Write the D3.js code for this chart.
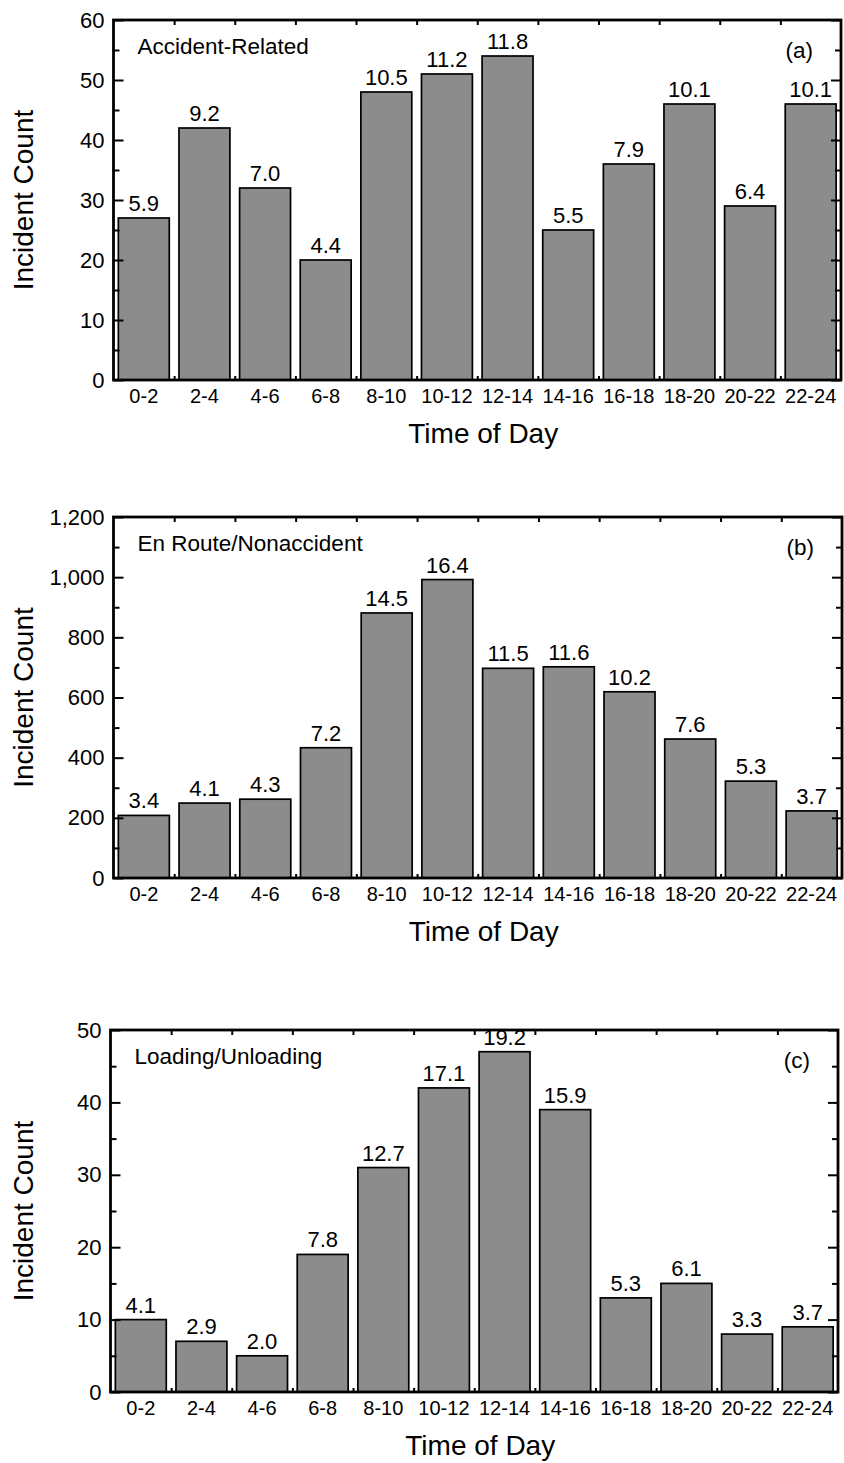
<!DOCTYPE html>
<html>
<head>
<meta charset="utf-8">
<script src="https://cdn.jsdelivr.net/npm/d3@7"></script>
<style>
  body { margin: 0; background: #fff; }
  svg text { font-family: 'Liberation Sans', Arial, sans-serif; fill: #000; }
</style>
</head>
<body>
<svg class="drawing" width="844" height="1463"></svg>
<script>
const timeSlots = ['0-2', '2-4', '4-6', '6-8', '8-10', '10-12', '12-14', '14-16', '16-18', '18-20', '20-22', '22-24']

// incident counts per time slot, and the share (%) printed on each bar
const accidentCounts = [27, 42, 32, 20, 48, 51, 54, 25, 36, 46, 29, 46]
const accidentShare = ['5.9', '9.2', '7.0', '4.4', '10.5', '11.2', '11.8', '5.5', '7.9', '10.1', '6.4', '10.1']

const enRouteCounts = [208, 249, 262, 433, 881, 992, 697, 702, 619, 462, 322, 223]
const enRouteShare = ['3.4', '4.1', '4.3', '7.2', '14.5', '16.4', '11.5', '11.6', '10.2', '7.6', '5.3', '3.7']

const loadingCounts = [10, 7, 5, 19, 31, 42, 47, 39, 13, 15, 8, 9]
const loadingShare = ['4.1', '2.9', '2.0', '7.8', '12.7', '17.1', '19.2', '15.9', '5.3', '6.1', '3.3', '3.7']

const fonts = { yTick: 22, xTick: 20, value: 22, label: 22.5, title: 28 }

const panels = [
  { counts: accidentCounts, share: accidentShare, name: 'Accident-Related', tag: '(a)',
    yMax: 60, major: 10, minor: 5, fmt: d3.format('d'),
    left: 113.5, right: 841, top: 20, bottom: 380 },
  { counts: enRouteCounts, share: enRouteShare, name: 'En Route/Nonaccident', tag: '(b)',
    yMax: 1200, major: 200, minor: 100, fmt: d3.format(','),
    left: 113.5, right: 842, top: 517, bottom: 878 },
  { counts: loadingCounts, share: loadingShare, name: 'Loading/Unloading', tag: '(c)',
    yMax: 50, major: 10, minor: 5, fmt: d3.format('d'),
    left: 110.5, right: 838, top: 1030, bottom: 1392 }
]

const svg = d3.select('svg.drawing')

const styleAxis = size => sel => {
  sel.select('.domain').remove()
  sel.selectAll('line').attr('stroke', '#000').attr('stroke-width', 2)
  sel.selectAll('text').attr('font-size', size).attr('fill', '#000')
}

const drawPanel = p => {
  const g = svg.append('g').attr('class', 'panel')

  const x = d3.scaleBand()
    .domain(timeSlots)
    .range([p.left, p.right])
    .paddingInner(0.16)
    .paddingOuter(0.08)
  const y = d3.scaleLinear().domain([0, p.yMax]).range([p.bottom, p.top])
  // slot boundaries for the top/bottom ticks
  const edge = d3.scaleLinear().domain([0, timeSlots.length]).range([p.left, p.right])

  const majors = d3.range(0, p.yMax + 1, p.major)
  const minors = d3.range(0, p.yMax + 1, p.minor).filter(v => v % p.major !== 0)

  const rows = timeSlots.map((slot, i) => ({ slot, count: p.counts[i], share: p.share[i] }))

  g.selectAll('rect.bar').data(rows).enter().append('rect')
    .attr('class', 'bar')
    .attr('x', d => x(d.slot))
    .attr('y', d => y(d.count))
    .attr('width', x.bandwidth())
    .attr('height', d => y(0) - y(d.count))
    .attr('fill', '#8c8c8c')
    .attr('stroke', '#000')
    .attr('stroke-width', 1.7)

  g.selectAll('text.share').data(rows).enter().append('text')
    .attr('class', 'share')
    .attr('x', d => x(d.slot) + x.bandwidth() / 2)
    .attr('y', d => y(d.count) - 7)
    .attr('text-anchor', 'middle')
    .attr('font-size', fonts.value)
    .text(d => d.share)

  g.append('g')
    .attr('transform', `translate(${p.left},0)`)
    .call(d3.axisLeft(y).tickValues(majors).tickSize(-10).tickPadding(9).tickFormat(p.fmt))
    .call(styleAxis(fonts.yTick))
  g.append('g')
    .attr('transform', `translate(${p.left},0)`)
    .call(d3.axisLeft(y).tickValues(minors).tickSize(-6).tickFormat(''))
    .call(styleAxis(fonts.yTick))
  g.append('g')
    .attr('transform', `translate(${p.right},0)`)
    .call(d3.axisRight(y).tickValues(majors).tickSize(-10).tickFormat(''))
    .call(styleAxis(fonts.yTick))
  g.append('g')
    .attr('transform', `translate(${p.right},0)`)
    .call(d3.axisRight(y).tickValues(minors).tickSize(-6).tickFormat(''))
    .call(styleAxis(fonts.yTick))
  g.append('g')
    .attr('transform', `translate(0,${p.top})`)
    .call(d3.axisTop(edge).tickValues(d3.range(1, timeSlots.length)).tickSize(-5).tickFormat(''))
    .call(styleAxis(fonts.xTick))
  g.append('g')
    .attr('transform', `translate(0,${p.bottom})`)
    .call(d3.axisBottom(edge).tickValues(d3.range(1, timeSlots.length)).tickSize(-4).tickFormat(''))
    .call(styleAxis(fonts.xTick))
  g.append('g')
    .attr('transform', `translate(0,${p.bottom})`)
    .call(d3.axisBottom(x).tickSize(0).tickPadding(9))
    .call(styleAxis(fonts.xTick))

  g.append('rect')
    .attr('x', p.left)
    .attr('y', p.top)
    .attr('width', p.right - p.left)
    .attr('height', p.bottom - p.top)
    .attr('fill', 'none')
    .attr('stroke', '#000')
    .attr('stroke-width', 2.8)

  g.append('text')
    .attr('x', p.left + 24)
    .attr('y', p.top + 34)
    .attr('font-size', fonts.label)
    .text(p.name)
  g.append('text')
    .attr('x', p.right - 28)
    .attr('y', p.top + 38)
    .attr('text-anchor', 'end')
    .attr('font-size', fonts.label)
    .text(p.tag)

  g.append('text')
    .attr('x', (p.left + p.right) / 2 + 6)
    .attr('y', p.bottom + 63)
    .attr('text-anchor', 'middle')
    .attr('font-size', fonts.title)
    .text('Time of Day')
  g.append('text')
    .attr('transform', 'rotate(-90)')
    .attr('x', -(p.top + p.bottom) / 2)
    .attr('y', 33)
    .attr('text-anchor', 'middle')
    .attr('font-size', fonts.title)
    .text('Incident Count')
}

panels.forEach(drawPanel)
</script>
</body>
</html>
